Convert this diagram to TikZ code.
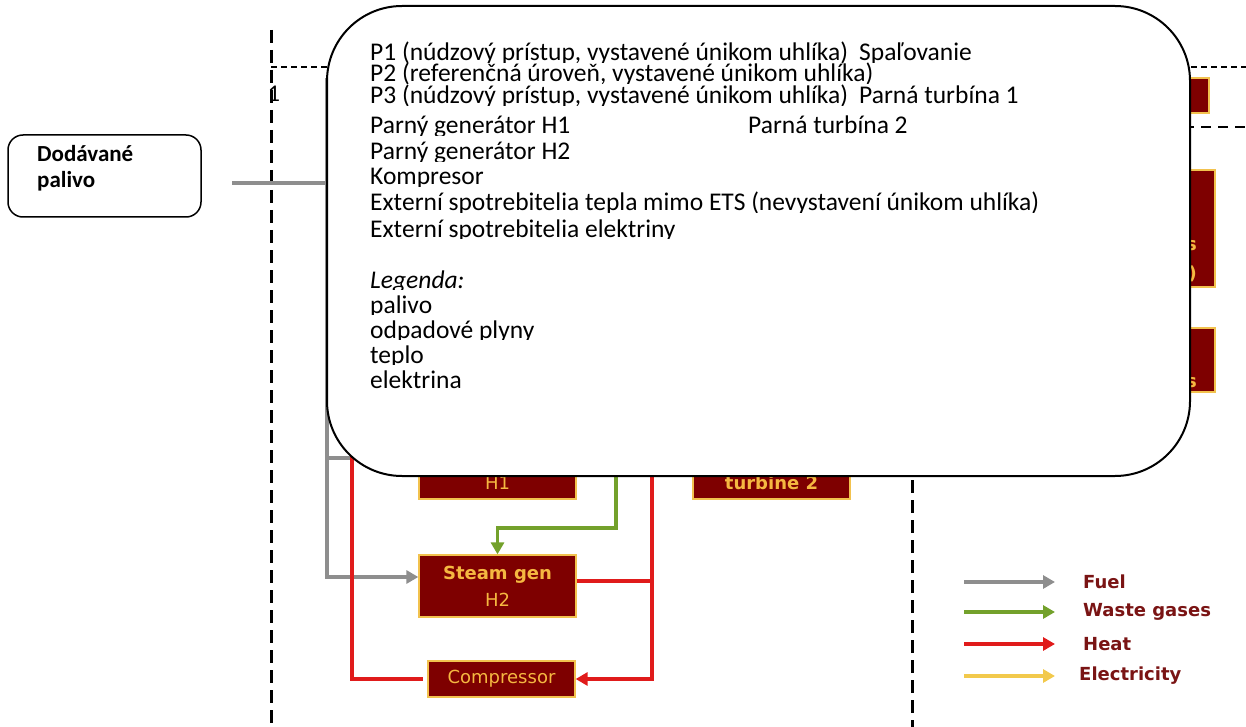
\documentclass[tikz,border=0pt]{standalone}
\usepackage{fontspec}
\setmainfont{Carlito}
\newfontfamily\dvsans{DejaVu Sans}
\usetikzlibrary{arrows.meta,calc}
\definecolor{boxred}{HTML}{7E0000}
\definecolor{boxedge}{HTML}{F2C24E}
\definecolor{goldtxt}{HTML}{F5B841}
\definecolor{fuelgray}{HTML}{8E8E8E}
\definecolor{wastegreen}{HTML}{73A12B}
\definecolor{heatred}{HTML}{E01B1B}
\definecolor{elecyellow}{HTML}{F2C94C}
\definecolor{legtxt}{HTML}{7A1414}
\tikzset{
  flowbox/.style={rectangle, fill=boxred, draw=boxedge, line width=1.3pt, inner sep=0pt},
  boxtxt/.style={text=goldtxt, inner sep=0pt, font=\dvsans\fontsize{18}{27}\selectfont, align=center},
  boxtxtb/.style={text=goldtxt, inner sep=0pt, font=\dvsans\bfseries\fontsize{18}{27}\selectfont, align=center},
  legendtxt/.style={text=legtxt, anchor=west, inner sep=0pt, font=\dvsans\bfseries\fontsize{18}{20}\selectfont},
  fuelflow/.style={draw=fuelgray, line width=3.5pt},
  wasteflow/.style={draw=wastegreen, line width=3.5pt},
  heatflow/.style={draw=heatred, line width=3.5pt},
  elecflow/.style={draw=elecyellow, line width=3.5pt},
  tipped/.style={-{Triangle[length=12pt,width=13pt]}},
  bigdash/.style={draw=black, line width=3pt, dash pattern=on 13pt off 7pt},
  thindash/.style={draw=black, line width=1.2pt, dash pattern=on 6pt off 4pt},
  hdash/.style={draw=black, line width=2.6pt, dash pattern=on 10pt off 7pt},
  panel/.style={draw=black, fill=white, line width=2pt, rounded corners=75pt, inner sep=0pt},
  srcbox/.style={draw=black, fill=white, line width=1.5pt, rounded corners=15pt, minimum width=193pt, minimum height=82pt, inner sep=0pt},
  srctxt/.style={anchor=base west, inner sep=0pt, font=\bfseries\fontsize{23}{26}\selectfont},
  rowtxt/.style={anchor=base west, inner sep=0pt, font=\fontsize{25.5}{25.5}\selectfont},
}
\newcommand\cliprow[4]{\begin{scope}\clip (#2-4,#3-34) rectangle (#2+820,#3+1.5);\node[rowtxt] (#1) at (#2,#3) {#4};\end{scope}}
\begin{document}
\begin{tikzpicture}[x=1pt,y=-1pt]
\useasboundingbox (0,0) rectangle (1246,727);
% underlying diagram: dashed boundaries
\draw[bigdash] (271,30) -- (271,727);
\draw[bigdash] (912,100) -- (912,727);
\draw[thindash] (271,67) -- (1246,67);
\draw[hdash] (912,127) -- (1246,127);
\node[inner sep=0pt, font=\fontsize{24}{24}\selectfont] (one) at (274,93.5) {1};
% right-hand boxes (partly hidden)
\node[flowbox, minimum width=109pt, minimum height=35pt] (rbA) at (1154.5,95.5) {};
\node[flowbox, minimum width=135pt, minimum height=117pt] (rbB) at (1147.5,228.5) {};
\node[flowbox, minimum width=135pt, minimum height=64pt] (rbC) at (1147.5,360) {};
\node[boxtxtb, anchor=east] (rbBa) at (1197,246) {s};
\node[boxtxtb, anchor=east] (rbBb) at (1197,274) {)};
\node[boxtxtb, anchor=east] (rbCa) at (1197,383) {s};
% process boxes
\node[flowbox, minimum width=157pt, minimum height=62pt] (h1) at (497.5,468) {};
\node[boxtxt] (h1t) at (497.5,483) {H1};
\node[flowbox, minimum width=157pt, minimum height=62pt] (tb2) at (771.5,468) {};
\node[boxtxtb] (tb2t) at (771.5,483) {turbine 2};
\node[flowbox, minimum width=157pt, minimum height=62pt, boxtxt] (sgh2) at (497.5,586) {\textbf{Steam gen}\\H2};
\node[flowbox, minimum width=147pt, minimum height=36pt, boxtxt] (comp) at (501.5,679) {Compressor};
% flows
\coordinate (fuelin) at (232,183);
\coordinate (fuelj) at (327,183);
\coordinate (gtop) at (327,78);
\coordinate (gh1) at (327,458);
\coordinate (gturn) at (327,577);
\draw[fuelflow] (fuelin) -- (fuelj);
\draw[fuelflow] (gh1) -- (h1.west |- gh1);
\draw[fuelflow, tipped] (gtop) -- (gturn) -- (sgh2.west |- gturn);
\coordinate (rl) at (352,440);
\draw[heatflow, shorten >=4pt] (rl) |- (comp.west);
\coordinate (rr) at (652,440);
\draw[heatflow, tipped] (rr) |- (comp.east);
\coordinate (rj) at (652,581);
\draw[heatflow] (sgh2.east |- rj) -- (rj);
\coordinate (gw) at (616,440);
\coordinate (gwturn) at (616,528);
\draw[wasteflow, tipped] (gw) -- (gwturn) -| (sgh2.north);
% legend
\node[legendtxt] (lfuel) at (1083,582) {Fuel};
\node[legendtxt] (lwaste) at (1083,612) {Waste gases};
\node[legendtxt] (lheat) at (1083,644) {Heat};
\node[legendtxt] (lelec) at (1079,676) {Electricity};
\coordinate (lg1) at (964,582);
\coordinate (lg2) at (964,612);
\coordinate (lg3) at (964,644);
\coordinate (lg4) at (964,676);
\draw[fuelflow, tipped] (lg1) -- ([xshift=-28pt]lfuel.west);
\draw[wasteflow, tipped] (lg2) -- ([xshift=-28pt]lwaste.west);
\draw[heatflow, tipped] (lg3) -- ([xshift=-28pt]lheat.west);
\draw[elecflow, tipped] (lg4) -- ([xshift=-24pt]lelec.west);
% overlay panel
\node[panel, minimum width=863pt, minimum height=470pt] (panel) at (758.5,241) {};
\cliprow{r1}{370}{61}{P1 (núdzový prístup, vystavené únikom uhlíka)}
\cliprow{r1b}{859}{61}{Spaľovanie}
\cliprow{r2}{370}{82}{P2 (referenčná úroveň, vystavené únikom uhlíka)}
\cliprow{r3}{370}{104}{P3 (núdzový prístup, vystavené únikom uhlíka)}
\cliprow{r3b}{859}{104}{Parná turbína 1}
\cliprow{r4}{370}{134}{Parný generátor H1}
\cliprow{r4b}{748}{134}{Parná turbína 2}
\cliprow{r5}{370}{160}{Parný generátor H2}
\cliprow{r6}{370}{185}{Kompresor}
\cliprow{r7}{370}{211}{Externí spotrebitelia tepla mimo ETS (nevystavení únikom uhlíka)}
\cliprow{r8}{370}{237}{Externí spotrebitelia elektriny}
\cliprow{r9}{370}{288}{\itshape Legenda:}
\cliprow{r10}{370}{313}{palivo}
\cliprow{r11}{370}{338}{odpadové plyny}
\cliprow{r12}{370}{363}{teplo}
\cliprow{r13}{370}{388}{elektrina}
% source box
\node[srcbox] (src) at (104.5,176) {};
\node[srctxt] (srcl1) at (37,162) {Dodávané};
\node[srctxt] (srcl2) at (37,188) {palivo};
\end{tikzpicture}
\end{document}
